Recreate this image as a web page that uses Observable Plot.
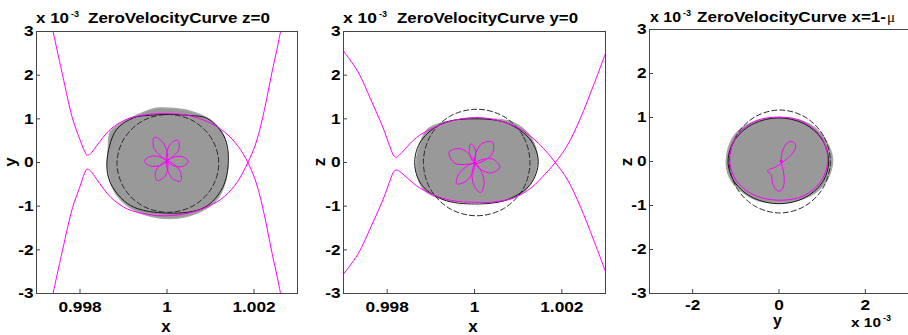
<!DOCTYPE html>
<html><head><meta charset="utf-8">
<script src="https://cdn.jsdelivr.net/npm/d3@7"></script>
<script src="https://cdn.jsdelivr.net/npm/@observablehq/plot@0.6"></script>
<style>
html,body{margin:0;padding:0;background:#fff;}
#wrap{position:relative;width:908px;height:335px;overflow:hidden;background:#fff;}
#wrap svg{position:absolute;top:0;}
</style></head><body><div id="wrap"></div>
<script>
// ---- data (all values in units of 1e-3; x of panels 1-2 is offset from 1) ----
const xTicks12 = [-2, 0, 2];
const xTickLabels12 = ["0.998", "1", "1.002"];
const xTicks3 = [-2, 0, 2];
const xTickLabels3 = ["-2", "0", "2"];
const yTicks = [-3, -2, -1, 0, 1, 2, 3];
const titles = ["ZeroVelocityCurve z=0", "ZeroVelocityCurve y=0", "ZeroVelocityCurve x=1-"];
const titleSymbol = "\u03bc";
const xAxisLabels = ["x", "x", "y"];
const yAxisLabels = ["y", "z", "z"];
const multiplier = "x 10";
const multiplierExp = "-3";

// panel 1 : z = 0 (x-y plane)
const p1Blob = [[1.40,0.12],[1.30,0.62],[1.0,0.97],[0.55,1.17],[0.09,1.24],[-0.25,1.24],[-0.65,1.1],[-1.05,0.9],[-1.30,0.7],[-1.35,0.3],[-1.37,-0.11],[-1.22,-0.64],[-0.90,-1.0],[-0.37,-1.23],[0.25,-1.27],[0.78,-1.12],[1.17,-0.82],[1.36,-0.36]];
const p1Solid = [[1.41,0.05],[1.32,0.58],[0.94,1.0],[0.5,1.08],[0.02,1.10],[-0.4,1.08],[-0.75,1.03],[-1.17,0.74],[-1.38,0.01],[-1.29,-0.49],[-0.83,-0.99],[0.02,-1.16],[0.86,-1.03],[1.28,-0.57]];
const p1Dashed = [[1.19,-0.02],[1.03,0.54],[0.605,0.95],[0.02,1.10],[-0.565,0.95],[-0.99,0.54],[-1.15,-0.02],[-0.99,-0.58],[-0.565,-0.99],[0.02,-1.14],[0.605,-0.99],[1.03,-0.58]];
const p1ZvcUpper = [[-2.63,3.05],[-2.40,2.0],[-2.17,1.0],[-2.0,0.52],[-1.90,0.27],[-1.84,0.17],[-1.76,0.2],[-1.62,0.38],[-1.29,0.77],[-0.90,1.0],[-0.44,1.10],[0,1.12],[0.48,1.08],[0.94,0.93],[1.32,0.70],[1.62,0.39],[1.86,0],[2.03,-0.4],[2.17,-0.9],[2.30,-1.5],[2.42,-2.1],[2.53,-2.6],[2.62,-3.05]];
const p1ZvcLower = [[-2.63,-3.05],[-2.40,-2.0],[-2.17,-1.03],[-2.0,-0.55],[-1.90,-0.26],[-1.84,-0.15],[-1.76,-0.19],[-1.62,-0.38],[-1.29,-0.80],[-0.90,-1.07],[-0.44,-1.19],[0,-1.22],[0.48,-1.16],[0.94,-1.01],[1.32,-0.78],[1.62,-0.44],[1.86,0],[2.03,0.4],[2.17,0.9],[2.30,1.5],[2.42,2.1],[2.53,2.6],[2.62,3.05]];
const p1Orbit = [[0,0.03],[0.27,0.29],[0.25,0.51],[0.06,0.40],[0,0.03],[0.32,-0.10],[0.49,0.02],[0.32,0.14],[0,0.03],[0.10,-0.34],[0.31,-0.43],[0.30,-0.20],[0,0.03],[-0.26,-0.20],[-0.23,-0.41],[-0.04,-0.31],[0,0.03],[-0.34,0.15],[-0.52,0.03],[-0.34,-0.09],[0,0.03],[-0.08,0.44],[-0.29,0.58],[-0.30,0.33],[0,0.03]];
const p1Center = [[0,0.03]];

// panel 2 : y = 0 (x-z plane)
const p2Blob = [[1.43,0.2],[1.23,0.66],[0.85,0.93],[0.24,1.0],[-0.37,0.98],[-1.06,0.77],[-1.29,0.28],[-1.33,-0.18],[-1.14,-0.64],[-0.60,-0.87],[0.09,-0.91],[0.70,-0.87],[1.16,-0.64],[1.39,-0.26]];
const p2Solid = [[1.46,0.02],[1.28,0.52],[0.75,0.9],[0.03,1.0],[-0.72,0.9],[-1.22,0.5],[-1.37,0.0],[-1.22,-0.5],[-0.72,-0.85],[0.03,-0.95],[0.75,-0.85],[1.28,-0.5]];
const p2Dashed = [[1.27,0],[1.11,0.61],[0.66,1.06],[0.05,1.22],[-0.56,1.06],[-1.01,0.61],[-1.17,0],[-1.01,-0.61],[-0.56,-1.06],[0.05,-1.22],[0.66,-1.06],[1.11,-0.61]];
const p2ZvcUpper = [[-3.02,2.58],[-2.67,2.08],[-2.37,1.43],[-2.10,0.81],[-1.93,0.34],[-1.85,0.16],[-1.79,0.12],[-1.72,0.17],[-1.60,0.30],[-1.33,0.57],[-0.99,0.77],[-0.53,0.95],[0,1.03],[0.47,0.98],[0.93,0.83],[1.31,0.58],[1.62,0.28],[1.85,0],[2.12,-0.38],[2.42,-1.0],[2.73,-1.78],[3.03,-2.58]];
const p2ZvcLower = [[-3.02,-2.58],[-2.67,-2.10],[-2.37,-1.47],[-2.10,-0.86],[-1.93,-0.40],[-1.85,-0.21],[-1.79,-0.17],[-1.72,-0.20],[-1.60,-0.30],[-1.33,-0.53],[-0.99,-0.72],[-0.53,-0.87],[0,-0.91],[0.47,-0.90],[0.93,-0.80],[1.31,-0.57],[1.62,-0.26],[1.85,0],[2.12,0.38],[2.42,1.0],[2.73,1.78],[3.03,2.58]];
const p2Orbit = [[0.01,-0.02],[0.02,0.29],[-0.08,0.43],[-0.12,0.26],[0.01,-0.02],[0.40,0.19],[0.41,0.47],[0.14,0.41],[0.01,-0.02],[0.36,-0.24],[0.58,-0.11],[0.41,0.08],[0.01,-0.02],[-0.03,-0.48],[0.14,-0.69],[0.22,-0.43],[0.01,-0.02],[-0.35,-0.25],[-0.41,-0.49],[-0.17,-0.41],[0.01,-0.02],[-0.30,0.31],[-0.58,0.24],[-0.45,-0.02],[0.01,-0.02]];
const p2Center = [[0.01,-0.02]];

// panel 3 : x = 1-mu (y-z plane)
const p3Blob = [[1.24,0.05],[1.1,0.45],[0.85,0.75],[0.45,0.95],[0,1.0],[-0.4,0.95],[-0.8,0.8],[-1.08,0.52],[-1.22,0.02],[-1.15,-0.35],[-0.9,-0.65],[-0.5,-0.88],[0,-0.94],[0.45,-0.88],[0.85,-0.7],[1.12,-0.4]];
const p3Solid = [[1.15,0],[1.0,0.5],[0.58,0.86],[0,0.99],[-0.59,0.86],[-1.02,0.5],[-1.18,0],[-1.02,-0.48],[-0.59,-0.83],[0,-0.96],[0.58,-0.83],[1.0,-0.48]];
const p3Dashed = [[1.19,0],[1.03,0.585],[0.605,1.01],[0.02,1.17],[-0.565,1.01],[-0.99,0.585],[-1.15,0],[-0.99,-0.585],[-0.565,-1.01],[0.02,-1.17],[0.605,-1.01],[1.03,-0.585]];
const p3Zvc = [[1.13,0.05],[0.98,0.55],[0.57,0.90],[0,1.01],[-0.57,0.91],[-1.0,0.55],[-1.14,0.05],[-1.0,-0.42],[-0.58,-0.76],[0,-0.88],[0.57,-0.78],[0.98,-0.43]];
const p3Orbit = [[0.05,0.01],[0.08,0.24],[0.19,0.42],[0.31,0.45],[0.39,0.36],[0.30,0.17],[0.13,0.02],[-0.07,-0.12],[-0.27,-0.21],[-0.18,-0.30],[-0.15,-0.48],[-0.06,-0.65],[0.03,-0.67],[0.10,-0.58],[0.12,-0.35],[0.08,-0.12]];
const p3Center = [[0.05,0.01]];

// ---- rendering ----
const xy = {x: d => d[0], y: d => d[1]};
const MAG = "#ff00ff";
const FONT = "'Liberation Sans', Arial, Helvetica, sans-serif";

function panel(cfg) {
  const marks = [
    Plot.line(cfg.blob, {...xy, curve: "catmull-rom-closed", fill: "#999999", stroke: "#a6a6a6", strokeWidth: 1.5}),
    Plot.line(cfg.solid, {...xy, curve: "catmull-rom-closed", stroke: "#1a1a1a", strokeWidth: 1}),
    Plot.line(cfg.dashed, {...xy, curve: "catmull-rom-closed", stroke: "#2a2a2a", strokeWidth: 1, strokeDasharray: "5,3"}),
    ...cfg.zvc.map(c => Plot.line(c.data, {...xy, curve: c.closed ? "catmull-rom-closed" : "catmull-rom", stroke: MAG, strokeWidth: 1, clip: true})),
    Plot.line(cfg.orbit, {...xy, curve: cfg.orbitClosed ? "catmull-rom-closed" : "catmull-rom", stroke: MAG, strokeWidth: 1}),
    Plot.dot(cfg.center, {...xy, r: 1.6, fill: MAG}),
    Plot.frame({stroke: "#444"}),
    Plot.axisX(cfg.xTicks, {anchor: "bottom", tickSize: -4, tickPadding: cfg.xPad, stroke: "#444", fill: "#000",
      fontSize: 15, fontWeight: "bold", tickFormat: d => cfg.xLabels[cfg.xTicks.indexOf(d)]}),
    Plot.axisY(yTicks, {anchor: "left", tickSize: -4, tickPadding: 7, stroke: "#444", fill: "#000",
      fontSize: 15, fontWeight: "bold", tickFormat: d => String(d)})
  ];
  const svg = Plot.plot({
    width: cfg.width, height: 335,
    marginLeft: cfg.ml, marginRight: cfg.mr, marginTop: cfg.mt, marginBottom: 42,
    style: {fontFamily: FONT, background: "transparent", overflow: "visible", color: "#000"},
    x: {domain: [-3, 3], axis: null},
    y: {domain: [-3, 3], axis: null},
    marks
  });
  svg.style.left = cfg.left + "px";
  document.getElementById("wrap").appendChild(svg);
  svg.querySelectorAll('g[aria-label$="tick label"] text').forEach(t => {
    const w = t.getComputedTextLength();
    t.setAttribute("textLength", (w * 1.15).toFixed(1));
    t.setAttribute("lengthAdjust", "spacingAndGlyphs");
  });
}

panel({left: 0, width: 300, ml: 36, mr: 3, mt: 31, xPad: 11.5, xTicks: xTicks12, xLabels: xTickLabels12,
  blob: p1Blob, solid: p1Solid, dashed: p1Dashed,
  zvc: [{data: p1ZvcUpper}, {data: p1ZvcLower}], orbit: p1Orbit, center: p1Center});
panel({left: 300, width: 310, ml: 43, mr: 5, mt: 31, xPad: 11.5, xTicks: xTicks12, xLabels: xTickLabels12,
  blob: p2Blob, solid: p2Solid, dashed: p2Dashed,
  zvc: [{data: p2ZvcUpper}, {data: p2ZvcLower}], orbit: p2Orbit, center: p2Center});
panel({left: 610, width: 298, ml: 39, mr: 0, mt: 29, xPad: 10, xTicks: xTicks3, xLabels: xTickLabels3,
  blob: p3Blob, solid: p3Solid, dashed: p3Dashed,
  zvc: [{data: p3Zvc, closed: true}], orbit: p3Orbit, orbitClosed: true, center: p3Center});

// ---- overlay texts ----
const ov = d3.select("#wrap").append("svg")
  .attr("width", 908).attr("height", 335)
  .style("left", "0px").style("pointer-events", "none")
  .attr("font-family", FONT).attr("font-weight", "bold").attr("fill", "#000");

function txt(str, x, y, size, opt = {}) {
  const t = ov.append("text").attr("x", x).attr("y", y).attr("font-size", size)
    .attr("text-anchor", opt.anchor || "start");
  if (opt.rotate) t.attr("transform", `rotate(-90 ${x} ${y})`);
  t.text(str);
  if (opt.width) t.attr("textLength", opt.width).attr("lengthAdjust", "spacingAndGlyphs");
  return t;
}

// multipliers and titles
const multX = [36, 343, 650], multW = [33, 34, 31], supX = [71, 379, 683];
const titleX = [88, 397, 697], titleW = [182, 181, 189], base = [22.5, 22.5, 21.5];
for (let i = 0; i < 3; i++) {
  txt(multiplier, multX[i], base[i], 14.5, {width: multW[i]});
  txt(multiplierExp, supX[i], base[i] - 6, 9.5, {width: 8});
  txt(titles[i], titleX[i], base[i], 15.5, {width: titleW[i]});
  if (i === 2) {
    ov.append("text").attr("x", titleX[i] + titleW[i] + 1).attr("y", base[i]).attr("font-size", 15)
      .attr("font-family", "'Liberation Serif', 'DejaVu Serif', serif").attr("font-weight", "normal")
      .text(titleSymbol);
  }
}
// bottom multiplier of panel 3
txt(multiplier, 851, 327, 13, {width: 30});
txt(multiplierExp, 883, 321, 9, {width: 8});

// axis labels
const xlX = [166, 473, 777.5], xlY = [332, 332, 326];
for (let i = 0; i < 3; i++) txt(xAxisLabels[i], xlX[i], xlY[i], i === 2 ? 16 : 17, {anchor: "middle"});
const ylX = [16, 325, 631.5];
for (let i = 0; i < 3; i++) txt(yAxisLabels[i], ylX[i], 162, 17, {anchor: "middle", rotate: true});
</script></body></html>
